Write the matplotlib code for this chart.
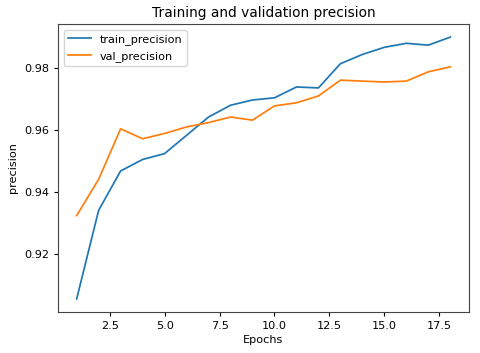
import matplotlib
matplotlib.use("Agg")
import matplotlib.pyplot as plt

epochs = list(range(1, 19))
train_precision = [0.9055, 0.9341, 0.9468, 0.9505, 0.9524, 0.9583, 0.9642, 0.9680, 0.9697,
                   0.9704, 0.9739, 0.9736, 0.9814, 0.9844, 0.9867, 0.9880, 0.9874, 0.9900]
val_precision = [0.9324, 0.9441, 0.9604, 0.9572, 0.9589, 0.9610, 0.9624, 0.9642, 0.9632,
                 0.9678, 0.9688, 0.9710, 0.9761, 0.9758, 0.9755, 0.9758, 0.9788, 0.9804]

fs = 8.1
fig = plt.figure(figsize=(4.8, 3.53), dpi=100)
ax = fig.add_axes([0.1208, 0.1161, 0.977 - 0.1208, 0.932 - 0.1161])
ax.plot(epochs, train_precision, color="#1f77b4", lw=1.25, label="train_precision")
ax.plot(epochs, val_precision, color="#ff7f0e", lw=1.25, label="val_precision")
ax.set_title("Training and validation precision", fontsize=9.9, pad=5)
ax.set_xlabel("Epochs", fontsize=fs, labelpad=2.5)
ax.set_ylabel("precision", fontsize=fs)
ax.tick_params(labelsize=fs, length=3)
ax.set_yticks([0.92, 0.94, 0.96, 0.98])
ax.legend(loc="upper left", fontsize=fs)
for s in ax.spines.values():
    s.set_color("#444444")
fig.savefig("out.png", dpi=100)
